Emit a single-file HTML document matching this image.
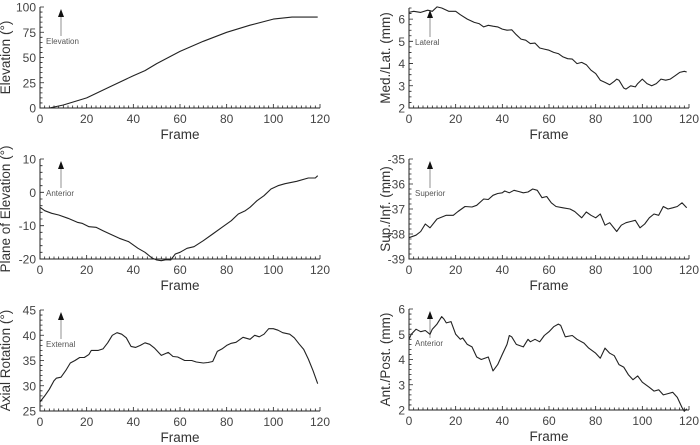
<!DOCTYPE html>
<html><head><meta charset="utf-8"><style>
body{margin:0;background:#fff;width:700px;height:445px;overflow:hidden}
svg{display:block;font-family:"Liberation Sans",sans-serif}
</style></head><body>
<svg id="fig" width="700" height="445"></svg>
<script>
const elevX=[4,10,20,30,40,45,50,60,70,80,90,100,108,119];
const elevY=[0,3,10,21,32,37,44,56,66,75,82,88,90,90];
const mlX=[0,2,5,8,10,12,14,17,20,22,25,28,30,32,34,36,38,40,42,44,46,48,50,52,54,56,58,60,62,64,66,68,70,72,74,76,78,80,82,84,86,88,89,90,92,93,95,97,98,100,102,104,106,108,110,112,114,116,118,119];
const mlY=[6.3,6.35,6.3,6.4,6.35,6.55,6.5,6.35,6.35,6.2,6.0,5.85,5.8,5.65,5.72,5.68,5.65,5.55,5.5,5.52,5.3,5.1,5.05,4.9,4.92,4.7,4.65,4.6,4.5,4.45,4.3,4.22,4.2,4.0,4.05,3.95,3.7,3.55,3.25,3.15,3.05,3.2,3.3,3.25,2.9,2.85,3.0,2.95,3.1,3.3,3.1,3.0,3.1,3.3,3.25,3.3,3.45,3.6,3.65,3.62];
const poeX=[0,2,5,8,12,16,18,21,24,27,30,34,38,42,45,48,50,52,54,56,58,60,63,66,70,74,78,82,85,88,90,93,96,99,102,105,110,115,118,119];
const poeY=[-4.5,-5.5,-6.3,-6.8,-7.8,-9,-9.3,-10.3,-10.5,-11.5,-12.5,-13.8,-14.8,-16.8,-18,-19.7,-20.3,-20.5,-20.2,-20.3,-18.5,-18,-16.8,-16.3,-14.5,-12.5,-10.5,-8.5,-6.5,-5.5,-4.5,-2.5,-1,1,2,2.6,3.3,4.3,4.3,5];
const siX=[0,3,5,7,9,12,16,19,21,24,27,29,32,34,36,38,40,41,43,45,47,49,51,53,55,57,59,61,63,66,69,71,74,76,78,80,82,84,86,89,91,93,95,97,99,101,103,105,107,109,111,113,115,117,119];
const siY=[-38.15,-38.05,-37.9,-37.6,-37.75,-37.4,-37.25,-37.25,-37.1,-36.9,-36.92,-36.85,-36.6,-36.62,-36.45,-36.38,-36.35,-36.28,-36.35,-36.25,-36.3,-36.35,-36.32,-36.2,-36.25,-36.55,-36.5,-36.75,-36.9,-36.95,-37,-37.1,-37.35,-37.12,-37.25,-37.35,-37.2,-37.65,-37.55,-37.9,-37.65,-37.55,-37.5,-37.45,-37.75,-37.6,-37.35,-37.2,-37.25,-36.9,-37,-36.95,-36.9,-36.75,-36.95];
const arX=[0,2,4,6,7,9,11,13,15,17,19,21,22,25,27,29,31,33,35,37,39,41,43,45,47,49,52,55,57,59,62,65,67,70,72,74,76,78,80,82,84,87,90,92,94,96,98,100,102,104,107,109,111,113,115,117,119];
const arY=[26.8,28,29.3,31,31.5,31.7,33,34.5,35,35.6,35.6,36.2,37,37,37.3,38.5,40,40.5,40.2,39.5,37.8,37.6,38,38.5,38.2,37.5,36,36.6,35.8,35.7,35,35,34.7,34.5,34.6,34.8,36.8,37.3,38,38.4,38.6,39.6,39.2,40,39.7,40.2,41.3,41.3,41,40.5,40.2,39.5,38.3,37.2,35.3,33,30.4];
const apX=[0,1,3,5,7,9,10,12,14,15,16,18,20,22,23,25,27,29,31,34,36,38,40,42,43,44,46,49,51,52,54,56,58,60,62,64,65,67,70,72,75,77,80,82,84,86,88,90,92,94,96,98,100,103,105,107,109,111,113,115,117,118,119];
const apY=[4.8,5.0,5.2,5.1,5.15,5.0,5.2,5.4,5.7,5.6,5.45,5.5,5.0,4.8,4.85,4.6,4.5,4.1,4.0,4.1,3.55,3.8,4.2,4.6,4.95,4.9,4.6,4.5,4.8,4.7,4.8,4.7,4.95,5.1,5.3,5.4,5.35,4.9,4.95,4.8,4.65,4.45,4.25,4.05,4.45,4.25,4.15,3.8,3.7,3.4,3.2,3.35,3.1,2.9,2.75,2.8,2.6,2.65,2.7,2.5,2.1,1.95,2.05];
const xTicks=[0,20,40,60,80,100,120];

const panels=[
 {n:'elevation',x0:40,top:7,bot:108,ymin:0,ymax:100,yt:[0,25,50,75,100],ym:5,lab:'Elevation (°)',dir:'Elevation',xs:elevX,ys:elevY},
 {n:'med-lat',x0:409,top:8,bot:108,ymin:2,ymax:6.5,yt:[2,3,4,5,6],ym:0.25,lab:'Med./Lat. (mm)',dir:'Lateral',xs:mlX,ys:mlY},
 {n:'plane-of-elevation',x0:40,top:159,bot:259,ymin:-20,ymax:10,yt:[-20,-10,0,10],ym:2,lab:'Plane of Elevation (°)',dir:'Anterior',xs:poeX,ys:poeY},
 {n:'sup-inf',x0:409,top:159,bot:259,ymin:-39,ymax:-35,yt:[-39,-38,-37,-36,-35],ym:0.2,lab:'Sup./Inf. (mm)',dir:'Superior',xs:siX,ys:siY},
 {n:'axial-rotation',x0:40,top:310,bot:411,ymin:25,ymax:45,yt:[25,30,35,40,45],ym:1,lab:'Axial Rotation (°)',dir:'External',xs:arX,ys:arY},
 {n:'ant-post',x0:409,top:309,bot:410,ymin:2,ymax:6,yt:[2,3,4,5,6],ym:0.2,lab:'Ant./Post. (mm)',dir:'Anterior',xs:apX,ys:apY}
];
const NS='http://www.w3.org/2000/svg';
const svg=document.getElementById('fig');
function mk(t,a,p){const e=document.createElementNS(NS,t);for(const k in a)e.setAttribute(k,a[k]);(p||svg).appendChild(e);return e;}
const W=280;
panels.forEach(p=>{
 const g=mk('g',{});
 
 
 const sx=v=>p.x0+v/120*W;
 const sy=v=>p.bot-(v-p.ymin)/(p.ymax-p.ymin)*(p.bot-p.top);
 const ax=mk('path',{d:`M${p.x0},${p.top}V${p.bot}H${p.x0+W}`,fill:'none',stroke:'#222','stroke-width':1},g);
 
 
 let d='';
 for(let f=0;f<=120;f+=2){const L=f%20===0?4:2.5;d+=`M${sx(f)},${p.bot}v${-L}`;}
 const nm=Math.round((p.ymax-p.ymin)/p.ym);
 for(let i=0;i<=nm;i++){const v=p.ymin+i*p.ym;const maj=p.yt.some(t=>Math.abs(t-v)<1e-6);d+=`M${p.x0},${sy(v)}h${maj?4:2.5}`;}
 mk('path',{d:d,stroke:'#222','stroke-width':0.8},g);
 xTicks.forEach(t=>{const e=mk('text',{x:sx(t),y:p.bot+15,'text-anchor':'middle','font-size':12,fill:'#444'},g);e.textContent=t;
  
  });
 p.yt.forEach(t=>{const e=mk('text',{x:p.x0-4,y:sy(t)+4.5,'text-anchor':'end','font-size':12,fill:'#444'},g);e.textContent=t;
  
  });
 const xl=mk('text',{x:p.x0+W/2,y:p.bot+31,'text-anchor':'middle','font-size':13.5,fill:'#333'},g);xl.textContent='Frame';
 
 
 const cy=(p.top+p.bot)/2;const lx=p.x0-(p.x0===40?30:19);
 const yl=mk('text',{x:lx,y:cy,'text-anchor':'middle','font-size':13.5,fill:'#333',transform:`rotate(-90 ${lx} ${cy})`},g);yl.textContent=p.lab;
 
 
 const axx=sx(9);
 mk('line',{x1:axx,y1:p.top+29,x2:axx,y2:p.top+8,stroke:'#777','stroke-width':0.8},g);
 const ah=mk('path',{d:`M${axx},${p.top+2}l-3,8h6z`,fill:'#111'},g);
 
 
 const dl=mk('text',{x:p.x0+6,y:p.top+37,'font-size':8,fill:'#555'},g);dl.textContent=p.dir;
 
 
 const pts=p.xs.map((x,i)=>sx(x).toFixed(1)+','+sy(p.ys[i]).toFixed(1)).join(' ');
 const ln=mk('polyline',{points:pts,fill:'none',stroke:'#222','stroke-width':1.1,'stroke-linejoin':'round'},g);
 
 
});
</script>
</body></html>
